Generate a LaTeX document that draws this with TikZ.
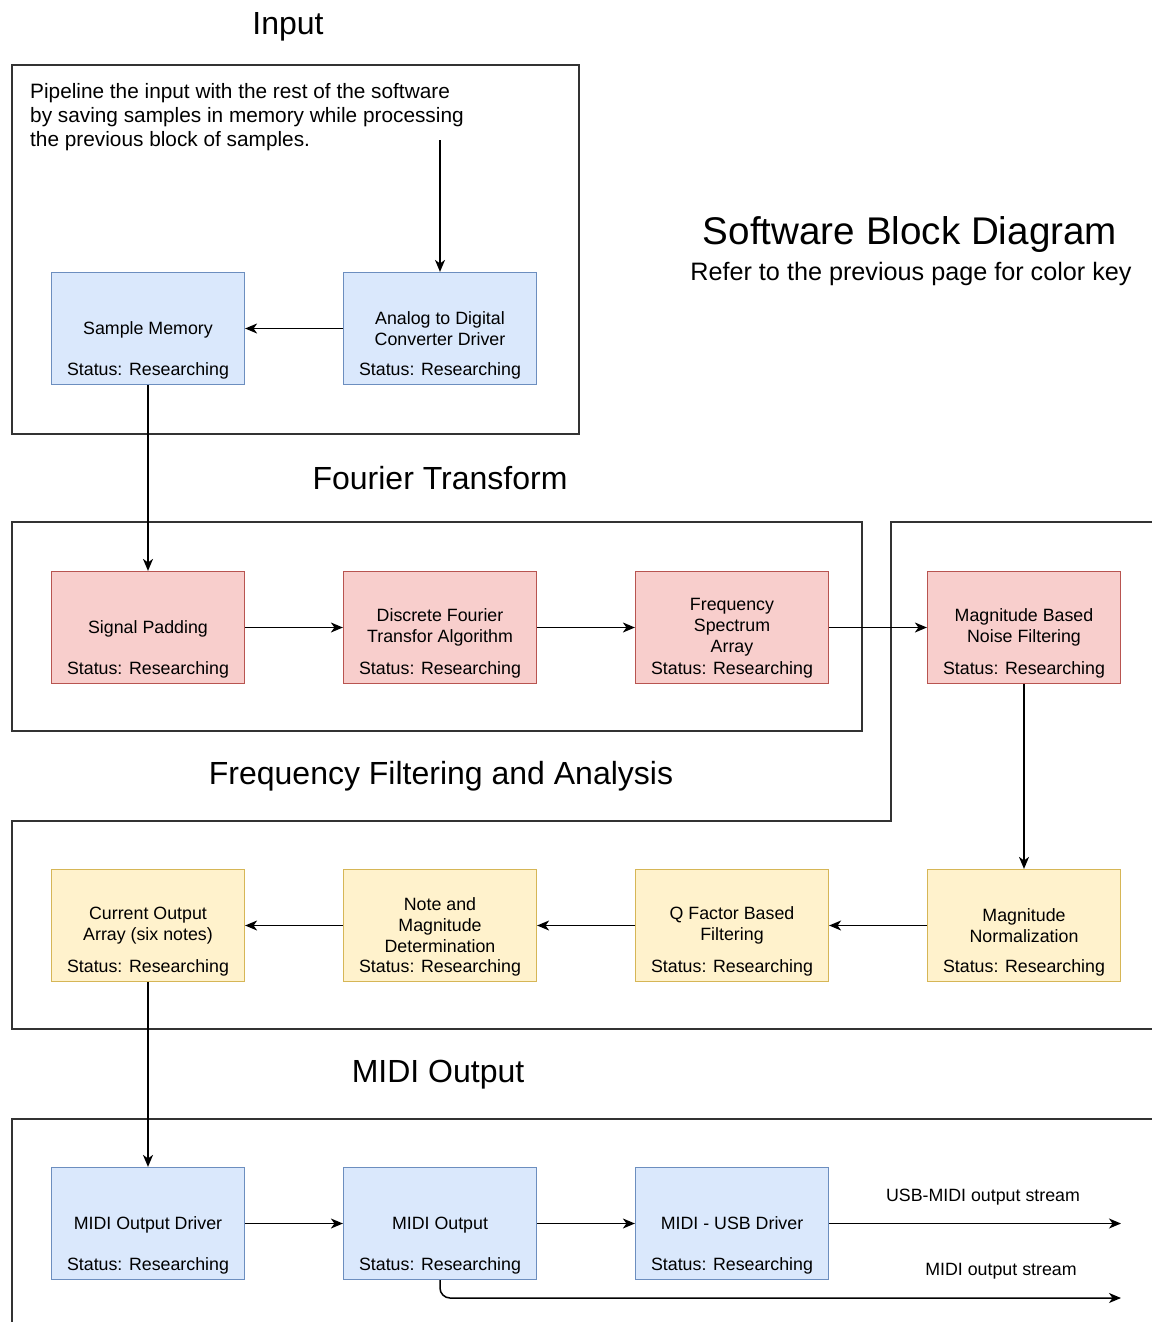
\documentclass[tikz,border=0pt]{standalone}
\usepackage{fontspec}
\setmainfont{Liberation Sans}
\usetikzlibrary{arrows.meta}
\definecolor{bluefill}{HTML}{DAE8FC}
\definecolor{blueline}{HTML}{6C8EBF}
\definecolor{redfill}{HTML}{F8CECC}
\definecolor{redline}{HTML}{B85450}
\definecolor{yellowfill}{HTML}{FFF2CC}
\definecolor{yellowline}{HTML}{D6B656}
\definecolor{framegray}{HTML}{333333}

\begin{document}
\begin{tikzpicture}[x=1pt,y=-1pt,
      boxfont/.style={font=\fontsize{17.8}{21}\selectfont},
      block/.style={boxfont,line width=1.2pt,minimum width=193pt,minimum height=112pt,
        inner sep=0pt,align=center,
        label={[boxfont,anchor=base,yshift=10pt]south:Status: Researching}},
      oneline/.style={text depth=0pt},
      inblk/.style={block,fill=bluefill,draw=blueline},
      fftblk/.style={block,fill=redfill,draw=redline},
      filtblk/.style={block,fill=yellowfill,draw=yellowline},
      frame/.style={draw=framegray,line width=1.4pt},
      heading/.style={anchor=base,font=\fontsize{32}{38}\selectfont},
      flow/.style={line width=1.5pt,-{Stealth[length=12pt,width=10pt,inset=3.5pt]}}]
    % page is 1151 x 1322, y runs downwards
    \useasboundingbox (0,0) rectangle (1151,1322);

    % group frames (the two lower ones run off the right edge)
    \draw[frame] (12,65) rectangle (579,434);
    \draw[frame] (12,522) rectangle (862,731);
    \draw[frame] (1152,522) -- (891,522) -- (891,821) -- (12,821) -- (12,1029) -- (1152,1029);
    \draw[frame] (1152,1119) -- (12,1119) -- (12,1323);

    % headings, placed on their baselines
    \node[heading] (hinput) at (288,34.5) {Input};
    \node[heading] (hfft)   at (440,489.5) {Fourier Transform};
    \node[heading] (hfilt)  at (441,784.5) {Frequency Filtering and Analysis};
    \node[heading] (hmidi)  at (438,1082.5) {MIDI Output};
    \node[anchor=base,font=\fontsize{38.6}{44}\selectfont] (title) at (910,244.8) {Software Block Diagram};
    \node[anchor=base,font=\fontsize{25.2}{30}\selectfont] (subtitle) at (911,280) {Refer to the previous page for color key};

    % note in the input frame
    \node[anchor=north west,inner sep=0pt,align=left,font=\fontsize{20.8}{24}\selectfont] (note) at (30,83)
      {Pipeline the input with the rest of the software\\by saving samples in memory while processing\\the previous block of samples.};

    % input
    \node[inblk,oneline] (mem) at (148,328.5) {Sample Memory};
    \node[inblk] (adc) at (440,328.5) {Analog to Digital\\Converter Driver};
    \coordinate (adcin) at (440,140);

    % fourier transform row
    \node[fftblk,oneline] (pad) at (148,627.5) {Signal Padding};
    \foreach \n/\x/\t in {dft/440/{Discrete Fourier\\Transfor Algorithm},
        spec/732/{Frequency\\Spectrum\\Array}, noise/1024/{Magnitude Based\\Noise Filtering}}
      \node[fftblk] (\n) at (\x,627.5) {\t};

    % filtering row, right to left
    \foreach \n/\x/\t in {cur/148/{Current Output\\Array (six notes)}, note/440/{Note and\\Magnitude\\Determination},
        qfac/732/{Q Factor Based\\Filtering}, norm/1024/{Magnitude\\Normalization}}
      \node[filtblk] (\n) at (\x,925.5) {\t};

    % midi output row
    \foreach \n/\x/\t in {drv/148/{MIDI Output Driver}, midiout/440/{MIDI Output}, usb/732/{MIDI - USB Driver}}
      \node[inblk,oneline] (\n) at (\x,1223.5) {\t};
    \coordinate (usbend) at (1121,1223.5);
    \coordinate (midiend) at (1121,1298);

    % connectors
    \draw[flow] (adcin) -- (adc);
    \draw[flow] (adc) -- (mem);
    \draw[flow] (mem) -- (pad);
    \foreach \a/\b in {pad/dft, dft/spec, spec/noise, noise/norm, norm/qfac, qfac/note, note/cur, cur/drv, drv/midiout, midiout/usb}
      \draw[flow] (\a) -- (\b);
    \draw[flow] (usb) -- (usbend);
    \draw[flow,rounded corners=10pt] (midiout.south) |- (midiend);

    % stream labels
    \node[boxfont] (usblbl) at (983,1197) {USB-MIDI output stream};
    \node[boxfont] (midilbl) at (1001,1271) {MIDI output stream};
  \end{tikzpicture}
\end{document}
